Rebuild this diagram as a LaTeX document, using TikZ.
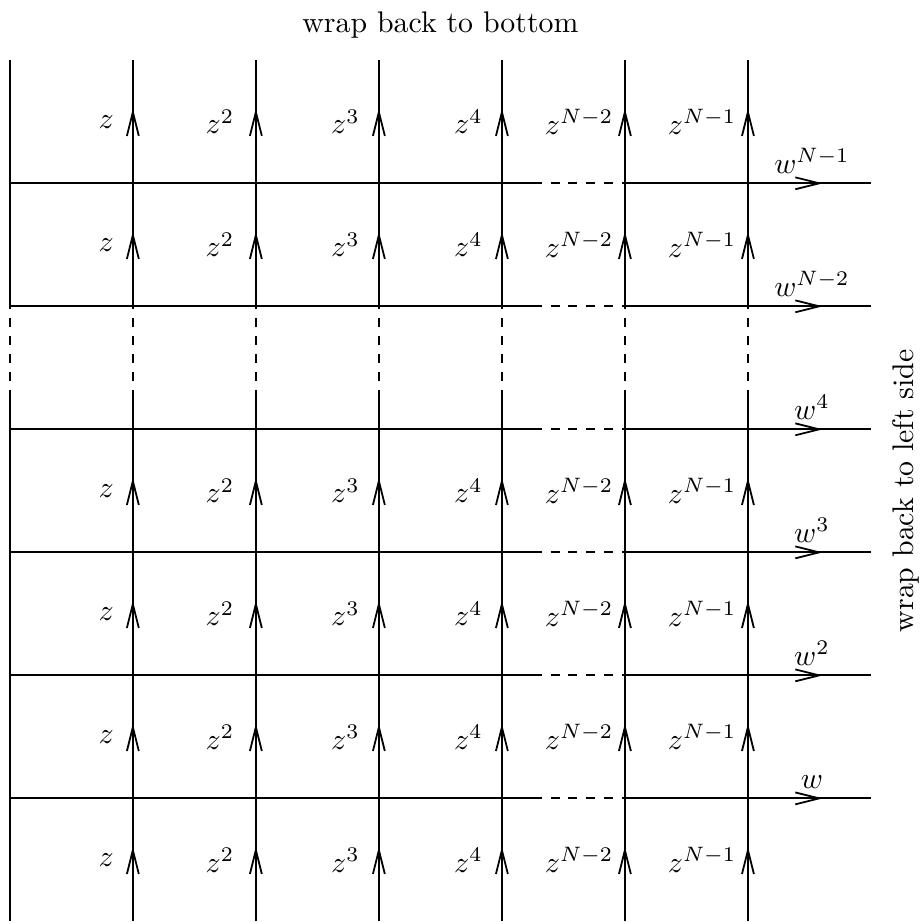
\documentclass[tikz,border=0pt]{standalone}
\usepackage{tikz}
\usetikzlibrary{arrows.meta, decorations.markings}

\begin{document}
\begin{tikzpicture}[
        x=1.45cm, y=1.45cm,
        every path/.style={semithick},
        midarrow/.style={postaction={decorate}, decoration={markings,
            mark=at position 0.5 with {\arrow[xshift=4.5pt]{Straight Barb[length=8pt, width=4pt]}}}},
        zlabel/.style={anchor=east, inner sep=2pt},
        wlabel/.style={anchor=south, inner sep=3pt}
    ]
        \useasboundingbox (-0.08,0) rectangle (7.415,7.49);

        % left edge, no arrows
        \draw (0,0) -- (0,4.25);
        \draw[dashed] (0,4.25) -- (0,5);
        \draw (0,5) -- (0,7);

        % vertical lines with z labels
        \foreach \x/\p/\d in {1/z/0.1, 2/z^2/0.12, 3/z^3/0.1, 4/z^4/0.1, 5/z^{N-2}/0.04, 6/z^{N-1}/0.04} {
            \foreach \r in {0,1,2,3,5,6} {
                \draw[midarrow] (\x,\r) -- (\x,\r+1);
                \node[zlabel] (z\x-\r) at (\x-\d,\r+0.5) {$\p$};
            }
            \draw (\x,4) -- (\x,4.25);
            \draw[dashed] (\x,4.25) -- (\x,5);
        }

        % horizontal lines with w labels
        \foreach \y/\q in {1/w, 2/w^2, 3/w^3, 4/w^4, 5/w^{N-2}, 6/w^{N-1}} {
            \draw (0,\y) -- (4.25,\y);
            \draw[dashed] (4.25,\y) -- (5,\y);
            \draw (5,\y) -- (6,\y);
            \draw[midarrow] (6,\y) -- (7,\y);
            \node[wlabel] (w\y) at (6.52,\y) {$\q$};
        }

        \node (bottomnote) at (3.5,7.29) {wrap back to bottom};
        \node[rotate=90] (sidenote) at (7.28,3.5) {wrap back to left side};
    \end{tikzpicture}
\end{document}
